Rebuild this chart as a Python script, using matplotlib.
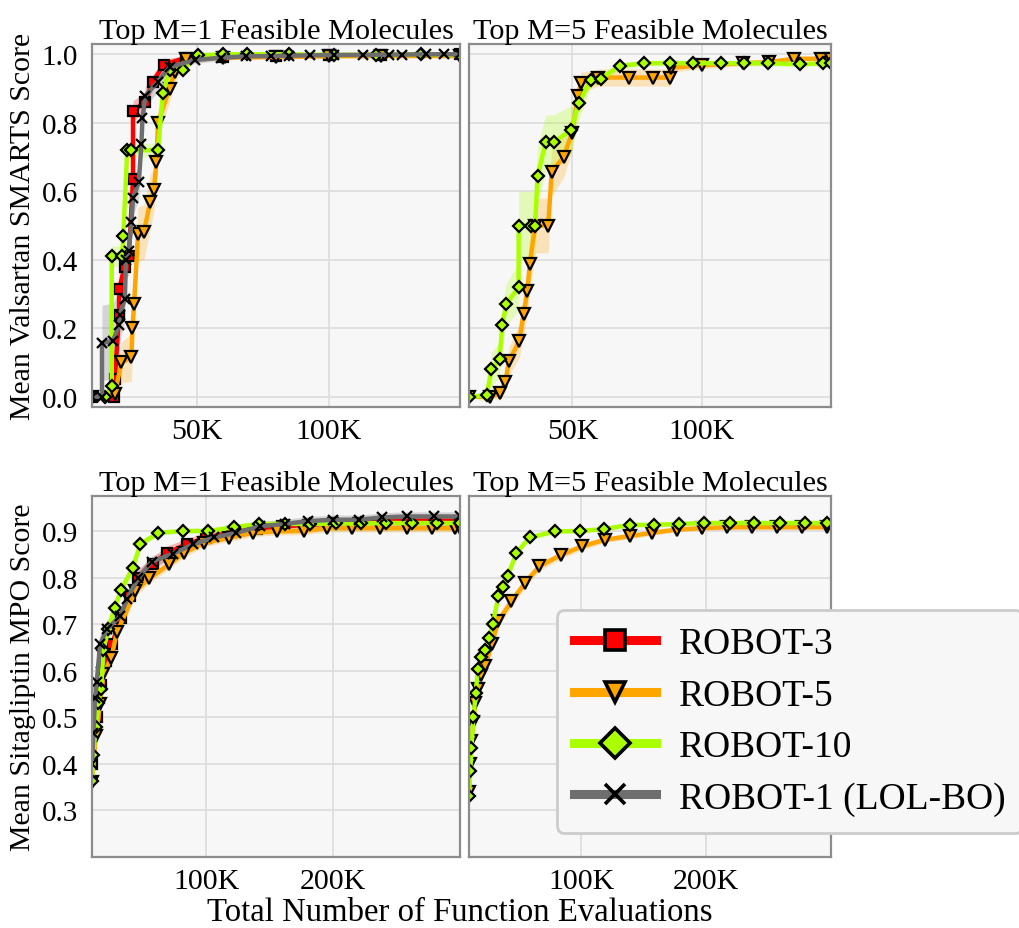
import numpy as np
import matplotlib.pyplot as plt
from matplotlib.lines import Line2D
from matplotlib.ticker import FuncFormatter

plt.rcParams['font.family'] = ['Liberation Serif', 'DejaVu Serif']

# x values are in thousands of function evaluations

# ---------------- Valsartan SMARTS, top M=1 ----------------
v1_r3_x = [10, 18.5, 18.7, 20.3, 20.3, 22.5, 24, 25.6, 25.6, 30, 33.2, 37.3, 45.9, 60, 80, 100, 120, 150]
v1_r3_y = [0, 0, 0.052, 0.24, 0.315, 0.38, 0.41, 0.636, 0.834, 0.86, 0.92, 0.97, 0.99, 0.993, 0.995, 0.997, 0.998, 1.0]
v1_r3_sd = [0, 0, 0.02, 0.05, 0.05, 0.05, 0.05, 0.04, 0.03, 0.03, 0.02, 0.015, 0.008, 0.005, 0.004, 0.003, 0.002, 0.0]

v1_r5_x = [10, 18.7, 21.2, 25, 25.4, 26, 27.5, 29.7, 32.2, 33.6, 34.5, 35.1, 39.5, 41.4, 45.9, 60, 80, 100, 120, 150]
v1_r5_y = [0, 0.009, 0.1, 0.115, 0.2, 0.27, 0.475, 0.48, 0.57, 0.605, 0.685, 0.80, 0.90, 0.947, 0.985, 0.99, 0.992, 0.994, 0.995, 0.995]
v1_r5_sd = [0, 0.01, 0.06, 0.07, 0.07, 0.07, 0.08, 0.08, 0.08, 0.06, 0.05, 0.04, 0.04, 0.03, 0.01, 0.005, 0.004, 0.003, 0.003, 0.003]

v1_r10_x = [10, 15, 17.5, 17.5, 21.5, 21.9, 23.4, 25, 35.1, 37, 39.5, 44.6, 50.3, 59.8, 69, 85, 102, 118, 135, 150]
v1_r10_y = [0, 0, 0.03, 0.41, 0.41, 0.47, 0.72, 0.72, 0.72, 0.888, 0.955, 0.955, 0.997, 1.0, 1.0, 1.0, 0.998, 0.999, 1.0, 0.998]
v1_r10_sd = [0, 0, 0.02, 0.03, 0.03, 0.03, 0.02, 0.02, 0.02, 0.02, 0.01, 0.01, 0.005, 0.003, 0.003, 0.003, 0.003, 0.003, 0.003, 0.003]

v1_r1_x = [10, 13.8, 13.8, 18, 20.3, 20.6, 22.5, 22.9, 24, 25, 25.6, 27.8, 28.8, 29.2, 30.3, 35, 39.5, 49, 59,
           68.6, 78, 85, 93, 102, 113, 123, 128, 137, 144, 150]
v1_r1_y = [0, 0, 0.157, 0.163, 0.21, 0.24, 0.285, 0.40, 0.425, 0.51, 0.58, 0.627, 0.737, 0.813, 0.878, 0.92, 0.962,
           0.983, 0.99, 0.994, 0.995, 0.996, 0.997, 0.998, 0.998, 0.999, 0.999, 1.0, 1.0, 1.0]
v1_r1_sd = [0, 0, 0.11, 0.11, 0.1, 0.08, 0.06, 0.05, 0.05, 0.05, 0.05, 0.05, 0.04, 0.04, 0.03, 0.03, 0.02, 0.01,
            0.008, 0.006, 0.005, 0.005, 0.004, 0.004, 0.003, 0.003, 0.003, 0.002, 0.002, 0.002]

# ---------------- Valsartan SMARTS, top M=5 ----------------
v5_r10_x = [10, 16.8, 18.7, 21.8, 22.9, 24.4, 29.2, 29.2, 33.9, 35.6, 36.5, 39.7, 42.8, 49.6, 52.4, 57.1, 61,
            68.3, 77.8, 87.6, 96.6, 107.3, 116.2, 125.5, 138, 147, 150]
v5_r10_y = [0, 0.004, 0.08, 0.109, 0.21, 0.27, 0.32, 0.5, 0.5, 0.5, 0.645, 0.743, 0.743, 0.78, 0.857, 0.925, 0.929,
            0.966, 0.974, 0.974, 0.974, 0.974, 0.974, 0.974, 0.971, 0.974, 0.974]
v5_r10_sd = [0, 0.02, 0.05, 0.05, 0.06, 0.06, 0.07, 0.1, 0.1, 0.1, 0.09, 0.08, 0.08, 0.07, 0.05, 0.02, 0.015,
             0.01, 0.008, 0.008, 0.008, 0.008, 0.008, 0.008, 0.008, 0.008, 0.008]

v5_r5_x = [10, 18, 22, 24.1, 25.4, 29.5, 31.1, 32.6, 33.5, 35.6, 40.6, 42, 46.6, 49.8, 52.1, 53.4, 60, 71.7, 81,
           87.9, 88, 100, 116, 126, 135.7, 146, 150]
v5_r5_y = [0, 0, 0.01, 0.044, 0.103, 0.164, 0.242, 0.31, 0.388, 0.5, 0.5, 0.657, 0.70, 0.77, 0.878, 0.917, 0.932,
           0.932, 0.932, 0.932, 0.96, 0.968, 0.974, 0.977, 0.987, 0.987, 0.987]
v5_r5_sd = [0, 0, 0.02, 0.03, 0.04, 0.05, 0.06, 0.07, 0.08, 0.08, 0.08, 0.07, 0.06, 0.05, 0.04, 0.03, 0.025,
            0.025, 0.025, 0.025, 0.012, 0.01, 0.008, 0.008, 0.006, 0.006, 0.006]

# ---------------- Sitagliptin MPO, top M=1 ----------------
s1_r3_x = [10, 14, 17, 21, 25.9, 32.6, 40, 46.6, 58, 69.3, 85, 100, 120, 140, 160, 180, 200, 220, 240, 260, 280, 300]
s1_r3_y = [0.40, 0.50, 0.57, 0.62, 0.657, 0.714, 0.76, 0.80, 0.83, 0.853, 0.872, 0.885, 0.897, 0.905, 0.91, 0.913,
           0.916, 0.918, 0.92, 0.922, 0.922, 0.922]
s1_r3_sd = [0.03, 0.03, 0.03, 0.025, 0.02, 0.02, 0.02, 0.018, 0.015, 0.015, 0.012, 0.012, 0.012, 0.012, 0.01, 0.01,
            0.01, 0.01, 0.01, 0.01, 0.01, 0.01]

s1_r5_x = [10, 13, 16.4, 19, 25.2, 29.6, 44.2, 55.3, 70.6, 82.5, 98.4, 117.7, 136.7, 155.8, 177, 195.5, 215, 237,
           258, 278, 296, 300]
s1_r5_y = [0.36, 0.46, 0.528, 0.592, 0.628, 0.682, 0.771, 0.798, 0.828, 0.853, 0.874, 0.885, 0.896, 0.899, 0.90,
           0.906, 0.906, 0.906, 0.906, 0.906, 0.906, 0.906]
s1_r5_sd = [0.02, 0.02, 0.02, 0.02, 0.015, 0.015, 0.012, 0.01, 0.01, 0.01, 0.008, 0.008, 0.008, 0.008, 0.008,
            0.008, 0.008, 0.008, 0.008, 0.008, 0.008, 0.008]

s1_r10_x = [10, 11, 13, 15, 17.2, 19, 23, 27.8, 33, 42, 48.2, 62.2, 82, 101.8, 122, 141.5, 161.9, 182, 202, 222,
            242, 262, 282, 300]
s1_r10_y = [0.364, 0.42, 0.48, 0.53, 0.56, 0.644, 0.69, 0.735, 0.774, 0.82, 0.872, 0.896, 0.9, 0.9, 0.908, 0.915,
            0.915, 0.915, 0.916, 0.916, 0.917, 0.917, 0.917, 0.917]
s1_r10_sd = [0.02, 0.02, 0.02, 0.02, 0.02, 0.02, 0.015, 0.015, 0.012, 0.01, 0.008, 0.005, 0.005, 0.005, 0.005,
             0.005, 0.005, 0.005, 0.005, 0.005, 0.005, 0.005, 0.005, 0.005]

s1_r1_x = [10, 11.1, 12.4, 13.7, 16.4, 21.7, 32.3, 37.5, 46.3, 56.9, 73.8, 89.7, 106.3, 123.6, 142.6, 161.9, 180,
           200, 220.7, 238.5, 258.5, 279.6, 300]
s1_r1_y = [0.40, 0.467, 0.542, 0.575, 0.657, 0.689, 0.717, 0.753, 0.798, 0.834, 0.851, 0.871, 0.886, 0.896, 0.91,
           0.915, 0.921, 0.924, 0.924, 0.929, 0.931, 0.931, 0.931]
s1_r1_sd = [0.03, 0.03, 0.03, 0.025, 0.02, 0.02, 0.02, 0.018, 0.015, 0.012, 0.01, 0.01, 0.01, 0.01, 0.01, 0.01,
            0.01, 0.01, 0.01, 0.01, 0.01, 0.01, 0.01]

# ---------------- Sitagliptin MPO, top M=5 ----------------
s5_r10_x = [10, 11, 12, 13.5, 15.5, 17, 20, 23, 26, 29, 33.6, 37, 41, 48, 58.5, 79, 98.7, 118, 138.6, 158, 178,
            198, 218.7, 238.3, 258.8, 279, 297]
s5_r10_y = [0.33, 0.385, 0.435, 0.50, 0.553, 0.603, 0.63, 0.645, 0.67, 0.70, 0.76, 0.78, 0.803, 0.853, 0.886,
            0.899, 0.90, 0.904, 0.913, 0.913, 0.915, 0.917, 0.917, 0.917, 0.917, 0.917, 0.917]
s5_r10_sd = [0.01, 0.01, 0.01, 0.01, 0.01, 0.01, 0.01, 0.01, 0.01, 0.01, 0.01, 0.01, 0.01, 0.008, 0.006, 0.005,
             0.005, 0.005, 0.005, 0.005, 0.005, 0.005, 0.005, 0.005, 0.005, 0.005, 0.005]

s5_r5_x = [10, 11, 12, 13.5, 15, 17, 20, 23, 28.3, 33.6, 44, 55.1, 66.4, 83.5, 100.6, 118.9, 138.6, 157, 176.6,
           196.3, 216.8, 237, 257, 277, 297]
s5_r5_y = [0.34, 0.40, 0.45, 0.49, 0.53, 0.56, 0.59, 0.61, 0.658, 0.707, 0.749, 0.789, 0.824, 0.848, 0.867, 0.881,
           0.889, 0.896, 0.903, 0.906, 0.908, 0.908, 0.908, 0.908, 0.908]
s5_r5_sd = [0.012, 0.012, 0.012, 0.012, 0.012, 0.012, 0.012, 0.012, 0.012, 0.012, 0.012, 0.01, 0.01, 0.008, 0.008,
            0.006, 0.006, 0.005, 0.005, 0.005, 0.005, 0.005, 0.005, 0.005, 0.005]

labels = ['ROBOT-3', 'ROBOT-5', 'ROBOT-10', 'ROBOT-1 (LOL-BO)']
colors = ['#ff0000', '#ffa500', '#aaff00', '#6e6e6e']
markers = ['s', 'v', 'D', 'x']
msizes = [7, 8, 6.5, 7]


def draw(ax, k, x, y, sd):
    x = np.array(x) * 1000
    y = np.array(y)
    sd = np.array(sd)
    ax.fill_between(x, y - sd, y + sd, color=colors[k], alpha=0.25, lw=0)
    mfc = 'black' if markers[k] == 'x' else colors[k]
    ax.plot(x, y, color=colors[k], lw=3.2, marker=markers[k], ms=msizes[k],
            mfc=mfc, mec='black', mew=1.6)


fig = plt.figure(figsize=(10.2, 9.29), dpi=100)
W, H = 1020, 929


def make_ax(x0, x1, y0, y1):
    return fig.add_axes([x0 / W, 1 - y1 / H, (x1 - x0) / W, (y1 - y0) / H])


ax_tl = make_ax(92, 460, 45, 408)
ax_tr = make_ax(469, 831, 45, 408)
ax_bl = make_ax(92, 460, 497, 858)
ax_br = make_ax(469, 831, 497, 858)

draw(ax_tl, 0, v1_r3_x, v1_r3_y, v1_r3_sd)
draw(ax_tl, 1, v1_r5_x, v1_r5_y, v1_r5_sd)
draw(ax_tl, 2, v1_r10_x, v1_r10_y, v1_r10_sd)
draw(ax_tl, 3, v1_r1_x, v1_r1_y, v1_r1_sd)

draw(ax_tr, 1, v5_r5_x, v5_r5_y, v5_r5_sd)
draw(ax_tr, 2, v5_r10_x, v5_r10_y, v5_r10_sd)

draw(ax_bl, 0, s1_r3_x, s1_r3_y, s1_r3_sd)
draw(ax_bl, 1, s1_r5_x, s1_r5_y, s1_r5_sd)
draw(ax_bl, 2, s1_r10_x, s1_r10_y, s1_r10_sd)
draw(ax_bl, 3, s1_r1_x, s1_r1_y, s1_r1_sd)

draw(ax_br, 1, s5_r5_x, s5_r5_y, s5_r5_sd)
draw(ax_br, 2, s5_r10_x, s5_r10_y, s5_r10_sd)

kfmt = FuncFormatter(lambda v, p: '%dK' % int(round(v / 1000)))

for ax in [ax_tl, ax_tr, ax_bl, ax_br]:
    ax.set_facecolor('#f7f7f7')
    ax.grid(True, color='#dedede', lw=1.3)
    ax.set_axisbelow(True)
    for s in ax.spines.values():
        s.set_color('#8c8c8c')
        s.set_linewidth(1.6)
    ax.tick_params(length=0)
    ax.tick_params(axis='x', labelsize=21.5, pad=8)
    ax.tick_params(axis='y', labelsize=21, pad=10)
    ax.xaxis.set_major_formatter(kfmt)

for ax in [ax_tl, ax_tr]:
    ax.set_xlim(10000, 150000)
    ax.set_ylim(-0.03, 1.03)
    ax.set_xticks([50000, 100000])
    ax.set_yticks([0.0, 0.2, 0.4, 0.6, 0.8, 1.0])
    ax.set_title('Top M=%d Feasible Molecules' % (1 if ax is ax_tl else 5), fontsize=21.8, pad=2)

for ax in [ax_bl, ax_br]:
    ax.set_xlim(10000, 300000)
    ax.set_ylim(0.2, 0.975)
    ax.set_xticks([100000, 200000])
    ax.set_yticks([0.3, 0.4, 0.5, 0.6, 0.7, 0.8, 0.9])
    ax.set_title('Top M=%d Feasible Molecules' % (1 if ax is ax_bl else 5), fontsize=21.8, pad=2)

ax_tl.yaxis.set_major_formatter(FuncFormatter(lambda v, p: '%.1f' % v))
ax_tr.tick_params(labelleft=False)
ax_br.tick_params(labelleft=False)

ax_tl.set_ylabel('Mean Valsartan SMARTS Score', fontsize=21.5, labelpad=4)
ax_bl.set_ylabel('Mean Sitagliptin MPO Score', fontsize=21.5, labelpad=4)
fig.text(460 / W, 1 - 921 / H, 'Total Number of Function Evaluations', fontsize=23.6,
         ha='center', va='baseline')

handles = [Line2D([], [], color=colors[k], lw=6.5, marker=markers[k], ms=15,
                  mfc=('black' if markers[k] == 'x' else colors[k]), mec='black', mew=2.6)
           for k in range(4)]
leg = fig.legend(handles, labels, loc='upper left', bbox_to_anchor=(557 / W, 1 - 611 / H),
                 fontsize=27, frameon=True, facecolor='#f7f7f7', edgecolor='#cccccc',
                 framealpha=1, handlelength=2.2, handletextpad=0.6, labelspacing=0.45,
                 borderaxespad=0, borderpad=0.45)
leg.get_frame().set_linewidth(2)

fig.savefig('out.png', dpi=100)
